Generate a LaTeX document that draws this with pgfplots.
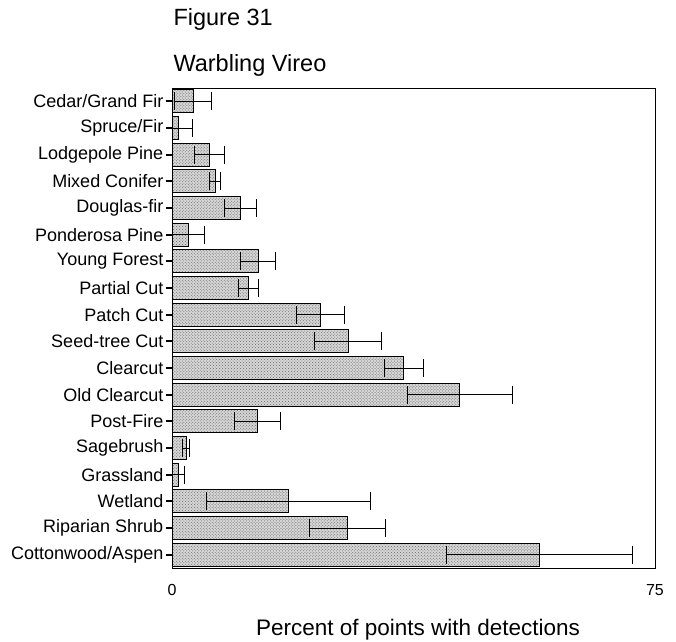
\documentclass[border=0pt]{standalone}
\usepackage{pgfplots}
\pgfplotsset{compat=1.18}
\usepackage{pgfplotstable}
\usepackage{fontspec}
\setmainfont{Liberation Sans}
\usetikzlibrary{patterns}
\pgfplotstableread{
i v e
0 3.3 2.9
1 1.0 2.2
2 5.8 2.3
3 6.7 0.9
4 10.6 2.45
5 2.6 2.5
6 13.4 2.7
7 11.9 1.5
8 23.1 3.7
9 27.4 5.2
10 36.0 3.05
11 44.7 8.2
12 13.3 3.6
13 2.2 0.5
14 1.0 1.0
15 18.1 12.7
16 27.3 5.9
17 57.1 14.4
}\data
\begin{document}
\begin{tikzpicture}
\useasboundingbox (0bp,0bp) rectangle (676bp,642bp);
\begin{axis}[at={(172bp,74bp)}, anchor=south west, scale only axis,
 width=483bp, height=480bp,
 xmin=0, xmax=75, ymin=-0.5, ymax=17.5, y dir=reverse,
 xtick={0,75}, ytick={0,...,17},
 yticklabels={Cedar/Grand Fir, Spruce/Fir, Lodgepole Pine, Mixed Conifer, Douglas-fir, Ponderosa Pine, Young Forest, Partial Cut, Patch Cut, Seed-tree Cut, Clearcut, Old Clearcut, Post-Fire, Sagebrush, Grassland, Wetland, Riparian Shrub, Cottonwood/Aspen},
 xbar, bar width=23bp,
 tick align=outside, major tick length=6bp,
 x tick style={draw=none}, y tick style={line width=1.8bp, black},
 xticklabel style={font=\fontsize{16bp}{18bp}\selectfont, yshift=-7bp},
 yticklabel style={font=\fontsize{18bp}{20bp}\selectfont, inner sep=2.5bp},
 /pgf/number format/assume math mode=true,
 axis line style={line width=1bp},
 ytick pos=left, xtick pos=bottom,
 clip=true]
\addplot[draw=black, line width=0.8bp, fill=gray!32,
  postaction={pattern=crosshatch dots, pattern color=black!60},
  error bars/.cd, x dir=both, x explicit, error mark=|,
  error bar style={line width=1bp, black},
  error mark options={mark size=9bp, line width=1bp, black}]
 table[x=v, y=i, x error=e]{\data};
\end{axis}
\node[anchor=base west, font=\fontsize{23.5bp}{26bp}\selectfont] at (170bp,616bp) {Figure 31};
\node[anchor=base west, font=\fontsize{23.5bp}{26bp}\selectfont] at (170bp,570bp) {Warbling Vireo};
\node[anchor=base, font=\fontsize{22.5bp}{24bp}\selectfont] at (418bp,7bp) {Percent of points with detections};
\end{tikzpicture}
\end{document}
